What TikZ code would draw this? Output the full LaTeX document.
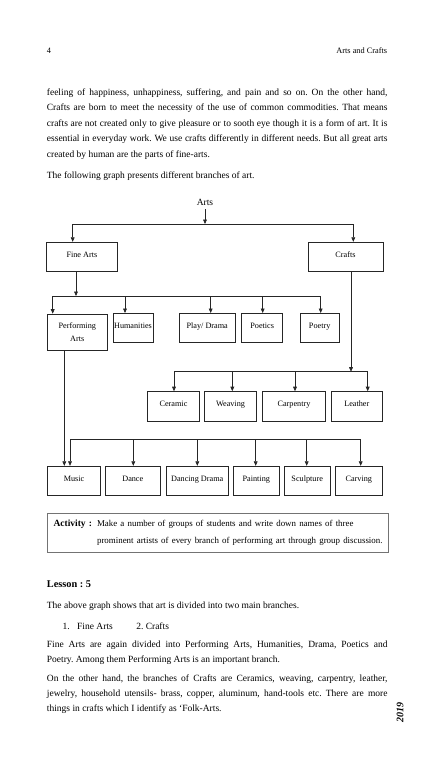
\documentclass[tikz,border=0pt]{standalone}
\usepackage{fontspec}
\setmainfont{Liberation Serif}
\usetikzlibrary{positioning,arrows.meta}
\frenchspacing

\begin{document}
\begin{tikzpicture}[
  x=1pt, y=-1pt,
  font=\fontsize{9.5}{15.4}\selectfont,
  box/.style={draw=black!85, line width=0.6pt, align=center, inner sep=1pt,
    minimum height=29.4pt, text height=5.8pt, text depth=5pt,
    font=\fontsize{8.2}{13.3}\selectfont},
  para/.style={anchor=base west, inner sep=0pt, text width=340.6pt, align=justify},
  textline/.style={anchor=base west, inner sep=0pt},
  actbox/.style={draw=black!55, line width=0.5pt, anchor=west, text width=328.4pt,
    align=left, inner xsep=6pt, minimum height=39pt},
  link/.style={draw=black!85, line width=0.6pt},
  >={Triangle[length=4.5pt,width=3.8pt]}
]
\useasboundingbox[fill=white] (0,0) rectangle (432,768);

% page head
\node[textline, font=\fontsize{8.3}{10}\selectfont] (pagenum) at (46.7,53.5) {4};
\node[anchor=base east, inner sep=0pt, font=\fontsize{8.3}{10}\selectfont] (head) at (387.3,53.5) {Arts and Crafts};

% text above the chart
\node[para] (intro) at (46.7,95.6) {feeling of happiness, unhappiness, suffering, and pain and so on. On the other hand,\linebreak
Crafts are born to meet the necessity of the use of common commodities. That means\linebreak
crafts are not created only to give pleasure or to sooth eye though it is a form of art. It is\linebreak
essential in everyday work. We use crafts differently in different needs. But all great arts\linebreak
created by human are the parts of fine-arts.};
\node[textline] (lead) at (46.7,178.6) {The following graph presents different branches of art.};

% chart
\node (arts) at (205,202.7) {Arts};
\node[box, minimum width=70.3pt] (fine) at (81.9,256.8) {Fine Arts};
\node[box, minimum width=75pt] (crafts) at (345.5,256.8) {Crafts};
\coordinate (abus) at (205,224);
\draw[link,->] (arts) -- (abus);
\draw[link,->] (abus) -| ([xshift=-9.2pt]fine.north);
\draw[link,->] (abus) -| ([xshift=7.8pt]crafts.north);

\node[box, text height=, text depth=, minimum width=60pt, minimum height=36.5pt] (perf) at (77.3,332.2) {Performing\\Arts};
\node[box, minimum width=39.4pt] (hum) at (133,328) {Humanities};
\node[box, minimum width=55.7pt] (play) at (207.2,328) {Play/ Drama};
\node[box, minimum width=41pt] (poetics) at (262.2,328) {Poetics};
\node[box, minimum width=39.3pt] (poetry) at (319.7,328) {Poetry};
\coordinate (fbus) at (76,296);
\draw[link,->] ([xshift=-5.9pt]fine.south) -- (fbus);
\draw[link,->] (fbus) -| ([xshift=-24.6pt]perf.north);
\draw[link,->] (fbus) -| ([xshift=-8pt]hum.north);
\draw[link,->] (fbus) -| ([xshift=3.5pt]play.north);
\draw[link,->] (fbus) -| ([xshift=0.5pt]poetics.north);
\draw[link,->] (fbus) -| ([xshift=1pt]poetry.north);

\node[box, minimum width=51.6pt] (ceramic) at (173.5,406.2) {Ceramic};
\node[box, minimum width=52.4pt] (weaving) at (230.5,406.2) {Weaving};
\node[box, minimum width=63.4pt] (carpentry) at (294,406.2) {Carpentry};
\node[box, minimum width=51.7pt] (leather) at (356.8,406.2) {Leather};
\coordinate (cbus) at (351,371.7);
\draw[link,->] ([xshift=5.5pt]crafts.south) -- (cbus);
\draw[link,->] (cbus) -| ([xshift=0.5pt]ceramic.north);
\draw[link,->] (cbus) -| ([xshift=1.8pt]weaving.north);
\draw[link,->] (cbus) -| ([xshift=1pt]carpentry.north);
\draw[link,->] (cbus) -| ([xshift=10.9pt]leather.north);

\node[box, minimum width=53.4pt] (music) at (74,480.8) {Music};
\node[box, minimum width=54.3pt] (dance) at (132.8,480.8) {Dance};
\node[box, minimum width=62.3pt] (ddrama) at (197.2,480.8) {Dancing Drama};
\node[box, minimum width=46pt] (painting) at (256.3,480.8) {Painting};
\node[box, minimum width=45.7pt] (sculpture) at (307.2,480.8) {Sculpture};
\node[box, minimum width=47.7pt] (carving) at (358.8,480.8) {Carving};
\draw[link,->] ([xshift=-13pt]perf.south) -- ([xshift=-13pt]perf.south |- music.north);
\coordinate (pbus) at (70,439);
\draw[link,->] (pbus) -- ([xshift=-4pt]music.north);
\draw[link,->] (pbus) -| ([xshift=0.5pt]dance.north);
\draw[link,->] (pbus) -| ([xshift=0.1pt]ddrama.north);
\draw[link,->] (pbus) -| ([xshift=-0.6pt]painting.north);
\draw[link,->] (pbus) -| ([xshift=-0.5pt]sculpture.north);
\draw[link,->] (pbus) -| ([xshift=1.9pt]carving.north);

% activity
\node[actbox] (act) at (47.3,532.8) {\textbf{Activity :}\kern5pt\parbox[t]{283pt}{\fontsize{8.9}{16.7}\selectfont
\mbox{Make a number of groups of students and write down names of three}\\
\mbox{prominent artists of every branch of performing art through group discussion.}}};

% lesson text
\node[textline, font=\fontsize{10.3}{12}\selectfont\bfseries] (lesson) at (46.7,587.6) {Lesson : 5};
\node[textline] (sum) at (46.7,608) {The above graph shows that art is divided into two main branches.};
\node[textline] (list) at (62.5,629.5) {1.\kern7.4pt Fine Arts\kern23.4pt 2. Crafts};
\node[para] (finep) at (46.7,647.1) {Fine Arts are again divided into Performing Arts, Humanities, Drama, Poetics and\linebreak
Poetry. Among them Performing Arts is an important branch.};
\node[para] (craftp) at (46.7,681) {On the other hand, the branches of Crafts are Ceramics, weaving, carpentry, leather,\linebreak
jewelry, household utensils- brass, copper, aluminum, hand-tools etc. There are more\linebreak
things in crafts which I identify as `Folk-Arts.};
\node[rotate=90, font=\fontsize{10}{12}\selectfont\bfseries\itshape] (year) at (400,712.5) {2019};
\end{tikzpicture}
\end{document}
